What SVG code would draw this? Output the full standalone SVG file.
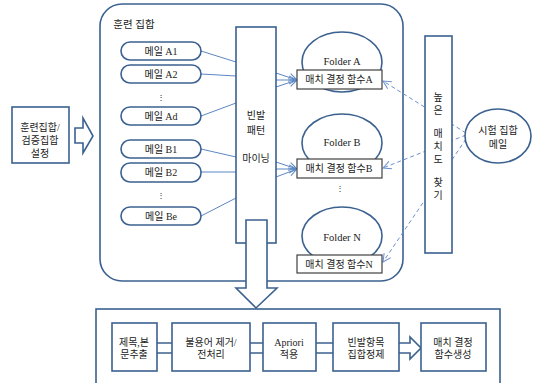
<svg xmlns="http://www.w3.org/2000/svg" width="548" height="383" viewBox="0 0 548 383">
<style>
.box{fill:#fff;stroke:#3b6190;stroke-width:1.6}
.fbox{fill:#fff;stroke:#404040;stroke-width:1.2}
.ln{fill:none;stroke:#5b87c5;stroke-width:1}
.dash{fill:none;stroke:#6a8fd0;stroke-width:1;stroke-dasharray:4 3}
.t{font-family:"Liberation Serif","Noto Sans CJK KR",serif;font-size:10px;fill:#222;text-anchor:middle}
</style>
<defs>
<marker id="ah" markerWidth="10" markerHeight="10" refX="9" refY="5" orient="auto" markerUnits="userSpaceOnUse">
<polyline points="1,1 9,5 1,9" fill="none" stroke="#5b87c5" stroke-width="1"/>
</marker>
<marker id="ahd" markerWidth="10" markerHeight="10" refX="9" refY="5" orient="auto" markerUnits="userSpaceOnUse">
<polyline points="1,1 9,5 1,9" fill="none" stroke="#6a8fd0" stroke-width="1"/>
</marker>
</defs>

<g id="training-set">
<rect class="box" x="100" y="4" width="303" height="277" rx="22"/>
<text class="t" x="134" y="28" style="text-anchor:middle;font-size:10.5px">훈련 집합</text>
</g>

<g id="setup">
<rect class="box" x="12" y="107" width="57" height="56"/>
<text class="t" x="40" y="131">훈련집합/</text>
<text class="t" x="40" y="144">검증집합</text>
<text class="t" x="40" y="157">설정</text>
</g>
<g id="setup-arrow">
<path class="box" d="M75,128 H83 V118 L93,136 L83,153 V143 H75 Z"/>
</g>

<g id="connectors">
<line class="ln" x1="201" y1="51" x2="236" y2="62"/>
<line class="ln" x1="201" y1="74" x2="236" y2="76"/>
<line class="ln" x1="201" y1="116" x2="236" y2="103"/>
<line class="ln" x1="201" y1="149" x2="236" y2="157"/>
<line class="ln" x1="201" y1="172" x2="236" y2="172"/>
<line class="ln" x1="201" y1="216" x2="236" y2="198"/>
<line class="ln" x1="276" y1="73" x2="297" y2="80" marker-end="url(#ah)"/>
<line class="ln" x1="276" y1="80" x2="297" y2="80" marker-end="url(#ah)"/>
<line class="ln" x1="276" y1="87" x2="297" y2="80" marker-end="url(#ah)"/>
<line class="ln" x1="276" y1="162" x2="297" y2="169" marker-end="url(#ah)"/>
<line class="ln" x1="276" y1="169" x2="297" y2="169" marker-end="url(#ah)"/>
<line class="ln" x1="276" y1="177" x2="297" y2="169" marker-end="url(#ah)"/>
<line class="dash" x1="466" y1="133" x2="383" y2="81" marker-end="url(#ahd)"/>
<line class="dash" x1="466" y1="135" x2="383" y2="168" marker-end="url(#ahd)"/>
<line class="dash" x1="466" y1="139" x2="383" y2="262" marker-end="url(#ahd)"/>
</g>

<g id="mail-a1"><rect class="box" x="121" y="42" width="80" height="18" rx="9"/><text class="t" x="161" y="55">메일 A1</text></g>
<g id="mail-a2"><rect class="box" x="121" y="65" width="80" height="18" rx="9"/><text class="t" x="161" y="78">메일 A2</text></g>
<text class="t" x="161" y="100" style="font-size:8px">⋮</text>
<g id="mail-ad"><rect class="box" x="121" y="107" width="80" height="18" rx="9"/><text class="t" x="161" y="120">메일 Ad</text></g>
<g id="mail-b1"><rect class="box" x="121" y="140" width="80" height="18" rx="9"/><text class="t" x="161" y="153">메일 B1</text></g>
<g id="mail-b2"><rect class="box" x="121" y="163" width="80" height="19" rx="9"/><text class="t" x="161" y="176">메일 B2</text></g>
<text class="t" x="161" y="198" style="font-size:8px">⋮</text>
<g id="mail-be"><rect class="box" x="121" y="207" width="80" height="18" rx="9"/><text class="t" x="161" y="220">메일 Be</text></g>

<g id="mining">
<rect class="box" x="236" y="27" width="40" height="216"/>
<text class="t" x="256" y="119">빈발</text>
<text class="t" x="256" y="134">패턴</text>
<text class="t" x="256" y="162">마이닝</text>
</g>

<g id="folder-a">
<ellipse class="box" cx="342" cy="62" rx="40" ry="30"/>
<text class="t" x="342" y="65" style="font-size:10.5px">Folder A</text>
</g>
<g id="match-a"><rect class="fbox" x="297" y="70" width="85" height="19"/><text class="t" x="339" y="83">매치 결정 함수A</text></g>
<g id="folder-b">
<ellipse class="box" cx="342" cy="143" rx="40" ry="29"/>
<text class="t" x="342" y="146" style="font-size:10.5px">Folder B</text>
</g>
<g id="match-b"><rect class="fbox" x="297" y="159" width="85" height="19"/><text class="t" x="339" y="172">매치 결정 함수B</text></g>
<text class="t" x="340" y="191" style="font-size:8px">⋮</text>
<g id="folder-n">
<ellipse class="box" cx="342" cy="236" rx="40" ry="29"/>
<text class="t" x="342" y="241" style="font-size:10.5px">Folder N</text>
</g>
<g id="match-n"><rect class="fbox" x="297" y="255" width="85" height="18"/><text class="t" x="339" y="268">매치 결정 함수N</text></g>

<g id="find-high">
<rect class="box" x="425" y="36" width="27" height="217"/>
<text class="t" x="438" y="101">높</text>
<text class="t" x="438" y="114">은</text>
<text class="t" x="438" y="137">매</text>
<text class="t" x="438" y="150">치</text>
<text class="t" x="438" y="163">도</text>
<text class="t" x="438" y="186">찾</text>
<text class="t" x="438" y="199">기</text>
</g>

<g id="test-mail">
<ellipse class="box" cx="498" cy="136" rx="33" ry="27"/>
<text class="t" x="498" y="134">시험 집합</text>
<text class="t" x="498" y="148">메일</text>
</g>

<g id="down-arrow">
<path class="box" d="M246,220 H267 V288 H277 L256,308 L236,288 H246 Z"/>
</g>

<g id="pipeline">
<rect class="box" x="96" y="309" width="404" height="90"/>
</g>
<g id="pipe-links">
<path class="box" d="M157,343 H172 M157,353 H172 M250,343 H263 M250,353 H263 M316,343 H333 M316,353 H333" fill="none"/>
<path class="box" d="M399,343 H410 V337 L421,348 L410,359 V353 H399"/>
</g>
<g id="step1"><rect class="box" x="112" y="323" width="45" height="48"/><text class="t" x="134" y="346">제목,본</text><text class="t" x="134" y="358">문추출</text></g>
<g id="step2"><rect class="box" x="172" y="323" width="78" height="48"/><text class="t" x="211" y="346">불용어 제거/</text><text class="t" x="211" y="358">전처리</text></g>
<g id="step3"><rect class="box" x="263" y="323" width="53" height="48"/><text class="t" x="289" y="346">Apriori</text><text class="t" x="289" y="358">적용</text></g>
<g id="step4"><rect class="box" x="333" y="323" width="66" height="48"/><text class="t" x="366" y="346">빈발항목</text><text class="t" x="366" y="358">집합정제</text></g>
<g id="step5"><rect class="box" x="421" y="323" width="65" height="48"/><text class="t" x="453" y="346">매치 결정</text><text class="t" x="453" y="358">함수생성</text></g>
</svg>
